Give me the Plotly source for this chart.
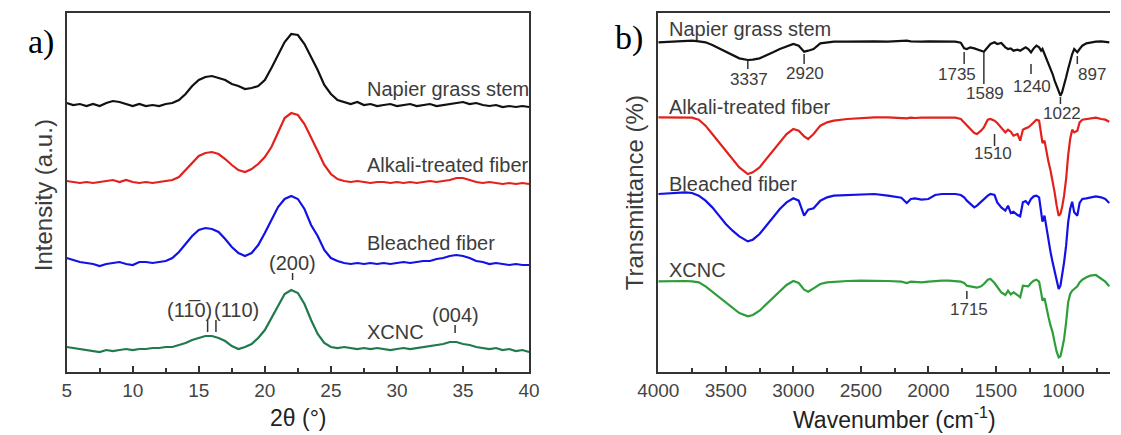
import plotly.graph_objects as go

# ---------------- Panel a: XRD ----------------
two_theta = [5.0 + 0.5 * i for i in range(71)]
xrd_napier = [269,267,268,266,268,266,269,271,270,268,
              266,268,266,267,266,268,269,272,278,286,
              292,295,296,294,292,288,286,283,284,286,
              292,304,317,330,338,337,328,315,302,287,
              278,272,270,268,270,267,268,266,267,268,
              266,267,268,266,267,268,266,267,268,269,
              270,268,269,267,266,267,265,266,265,266,265]
xrd_alkali = [191,190,189,190,189,190,191,192,190,192,
              190,189,190,189,190,191,192,195,202,210,
              216,219,220,218,213,207,202,200,203,208,
              215,225,240,254,259,257,248,235,221,207,
              198,193,191,190,191,190,189,190,190,189,
              190,189,190,189,190,191,190,191,192,194,
              194,192,190,189,190,189,188,189,188,189,188]
xrd_bleached = [114,112,110,109,108,106,108,109,110,108,
                107,110,110,109,110,111,114,120,128,136,
                142,144,143,140,133,125,119,116,119,127,
                139,152,165,173,176,173,163,147,136,122,
                114,111,109,108,109,108,109,108,109,108,
                109,110,109,110,111,111,113,114,116,117,
                116,114,111,110,108,109,108,107,108,107,107]
xrd_xcnc = [25,24,23,22,21,20,22,21,22,23,
            22,23,23,24,24,25,25,27,29,32,
            34,36,36,34,31,26,23,25,28,34,
            42,54,67,78,82,79,68,52,38,29,
            25,24,25,24,23,24,23,24,23,22,
            23,24,23,24,25,26,27,28,30,30,
            28,27,25,24,23,24,22,23,21,22,20]

xrd_names = ["Napier grass stem", "Alkali-treated fiber", "Bleached fiber", "XCNC"]
xrd_label_y = [283, 207, 129, 40]
xrd_label_x = 27.6

miller_labels = ["(200)", "(11\u03050)", "(110)", "(004)"]
miller_text_x = [22.07, 14.27, 17.87, 34.4]
miller_text_y = [109, 62, 62, 57]
miller_tick_x = [22.1, 15.67, 16.3, 34.4]
miller_tick_y0 = [92, 40, 40, 39]
miller_tick_y1 = [99, 52, 52, 47]

# ---------------- Panel b: FTIR ----------------
wavenumber = [4000, 3900, 3800, 3750, 3700, 3650, 3600, 3550, 3500, 3450,
              3400, 3337, 3300, 3250, 3200, 3150, 3100, 3050, 3000, 2960,
              2920, 2890, 2850, 2800, 2750, 2700, 2600, 2500, 2400, 2300,
              2200, 2160, 2130, 2100, 2050, 2000, 1950, 1900, 1850, 1800,
              1760, 1735, 1715, 1690, 1660, 1640, 1610, 1589, 1560, 1540,
              1510, 1490, 1460, 1430, 1410, 1390, 1370, 1340, 1320, 1300,
              1280, 1260, 1240, 1220, 1200, 1180, 1165, 1155, 1140, 1125,
              1110, 1095, 1080, 1065, 1050, 1035, 1022, 1010, 995, 980,
              965, 950, 935, 920, 897, 880, 860, 830, 800, 760,
              720, 690, 660]
ftir_napier = [99.0, 99.2, 99.3, 99.5, 99.3, 99.0, 98.2, 97.2, 96.0, 95.0,
               94.2, 93.7, 93.8, 94.2, 95.0, 96.0, 97.0, 97.8, 98.5, 98.0,
               96.2, 96.5, 97.0, 98.7, 99.0, 99.2, 99.2, 99.3, 99.3, 99.2,
               99.3, 99.5, 99.3, 99.2, 99.2, 99.3, 99.3, 99.2, 99.3, 99.2,
               98.9, 97.2, 97.0, 97.5, 97.2, 97.0, 96.5, 96.2, 97.5, 98.5,
               99.0, 98.5, 98.8, 97.5, 97.0, 97.2, 96.5, 96.8, 96.5, 97.0,
               97.5, 97.0, 96.0, 97.2, 98.0, 97.5, 96.5, 97.0, 95.5, 94.5,
               93.0, 91.5, 89.5, 87.5, 86.0, 84.5, 83.0, 84.0, 86.0, 88.5,
               91.0, 93.5, 95.5, 97.0, 96.0, 97.0, 98.0, 98.7, 99.0, 99.2,
               99.3, 99.2, 99.0]
ftir_alkali = [76.5, 76.5, 76.5, 76.4, 75.8, 74.0, 71.5, 69.0, 66.5, 64.0,
               61.5, 59.5, 60.0, 61.5, 64.0, 66.5, 69.0, 71.5, 73.0, 72.5,
               70.8, 70.0, 71.5, 74.0, 75.0, 75.5, 76.0, 76.3, 76.5, 76.5,
               76.4, 76.2, 76.4, 76.3, 76.4, 76.4, 76.5, 76.5, 76.5, 76.4,
               76.0, 75.0, 74.2, 73.0, 71.8, 71.5, 72.5, 73.5, 75.8, 76.0,
               75.5, 74.8, 73.5, 72.0, 72.8, 72.2, 71.0, 71.5, 69.5, 72.8,
               73.2, 73.5, 74.2, 75.0, 75.8, 75.5, 72.0, 68.8, 69.5, 66.0,
               63.0, 60.5, 57.5, 54.0, 50.0, 47.0, 47.5, 49.5, 53.0, 58.0,
               65.0, 70.0, 72.8, 72.0, 72.5, 75.0, 75.8, 76.0, 76.2, 76.4,
               76.0, 75.8, 75.2]
ftir_bleached = [53.5, 53.8, 54.0, 53.8, 53.0, 51.5, 49.5, 47.0, 44.5, 42.5,
                 40.8, 39.3, 39.8, 41.5, 44.0, 46.5, 49.0, 51.0, 52.2, 51.5,
                 47.0, 48.8, 49.2, 51.5, 52.5, 53.0, 53.2, 53.4, 53.5, 53.0,
                 52.4, 50.8, 52.0, 52.2, 51.8, 52.0, 53.2, 53.5, 53.5, 53.5,
                 53.2, 52.5, 51.5, 50.5, 49.5, 50.0, 51.2, 52.0, 53.0, 53.5,
                 53.2, 51.0, 49.5, 48.5, 50.0, 47.8, 48.2, 47.2, 46.8, 51.0,
                 51.4, 50.5, 52.0, 52.8, 53.0, 52.5, 48.0, 45.2, 47.0, 43.0,
                 40.0, 36.0, 33.0, 30.0, 27.0, 25.0, 26.0, 29.0, 33.0, 38.0,
                 45.0, 49.0, 51.2, 48.0, 47.0, 50.8, 52.0, 52.2, 52.4, 52.8,
                 52.5, 52.0, 50.8]
ftir_xcnc = [27.3, 27.4, 27.4, 27.3, 27.0, 25.8, 24.2, 22.5, 20.8, 19.2,
             17.8, 16.8, 17.2, 18.5, 20.5, 22.5, 24.5, 26.2, 27.4, 26.8,
             24.8, 24.2, 25.2, 26.5, 27.0, 27.2, 27.4, 27.5, 27.5, 27.4,
             27.2, 26.8, 27.2, 27.1, 27.0, 27.2, 27.4, 27.5, 27.5, 27.4,
             27.2, 26.8, 26.0, 25.8, 25.5, 25.4, 25.8, 26.5, 27.8, 28.0,
             26.8, 25.8, 24.0, 23.2, 24.5, 23.4, 24.0, 23.2, 22.5, 26.0,
             25.8, 25.8, 26.8, 27.5, 27.8, 27.2, 24.0, 21.5, 22.2, 19.0,
             16.5, 14.0, 12.0, 9.0, 6.2, 4.5, 4.8, 7.0, 10.0, 15.0,
             21.0, 23.5, 24.5, 25.0, 25.8, 27.0, 27.8, 28.5, 29.0, 29.2,
             28.0, 27.2, 25.8]

ftir_label_x = 3935
ftir_label_y = [103.0, 79.6, 56.5, 30.8]

band_labels = ["3337", "2920", "1735", "1589", "1240", "897", "1022", "1510", "1715"]
band_text_x = [3327, 2914, 1787, 1583, 1230, 791, 1011, 1525, 1698]
band_text_y = [88.0, 89.8, 89.5, 83.8, 85.9, 89.5, 77.8, 65.8, 19.0]
band_tick_x = [3337, 2920, 1735, 1589, 1240, 897, 1022, 1510, 1715]
band_tick_y0 = [91.0, 92.5, 92.5, 86.5, 89.5, 92.5, 80.5, 67.9, 22.0]
band_tick_y1 = [93.4, 95.5, 96.1, 96.1, 92.5, 94.9, 82.6, 71.5, 24.4]

colors_a = ["#111111", "#e3211c", "#1212e6", "#1f7a4d"]
colors_b = ["#111111", "#e3211c", "#1212e6", "#2e9e3a"]

TEXT = "#3c3c3c"
SANS = "Liberation Sans, Arial, sans-serif"

fig = go.Figure()

for ys, c in zip([xrd_napier, xrd_alkali, xrd_bleached, xrd_xcnc], colors_a):
    fig.add_trace(go.Scatter(x=two_theta, y=ys, mode="lines",
                             line=dict(color=c, width=2.2),
                             xaxis="x", yaxis="y", showlegend=False, hoverinfo="skip"))

tx, ty = [], []
for x, a, b in zip(miller_tick_x, miller_tick_y0, miller_tick_y1):
    tx += [x, x, None]
    ty += [a, b, None]
fig.add_trace(go.Scatter(x=tx, y=ty, mode="lines", line=dict(color="#333333", width=1.5),
                         xaxis="x", yaxis="y", showlegend=False, hoverinfo="skip"))

for ys, c in zip([ftir_napier, ftir_alkali, ftir_bleached, ftir_xcnc], colors_b):
    fig.add_trace(go.Scatter(x=wavenumber, y=ys, mode="lines",
                             line=dict(color=c, width=2.2),
                             xaxis="x2", yaxis="y2", showlegend=False, hoverinfo="skip"))

tx, ty = [], []
for x, a, b in zip(band_tick_x, band_tick_y0, band_tick_y1):
    tx += [x, x, None]
    ty += [a, b, None]
fig.add_trace(go.Scatter(x=tx, y=ty, mode="lines", line=dict(color="#333333", width=1.5),
                         xaxis="x2", yaxis="y2", showlegend=False, hoverinfo="skip"))

ann = []
for name, y in zip(xrd_names, xrd_label_y):
    ann.append(dict(x=xrd_label_x, y=y, xref="x", yref="y", text=name, showarrow=False,
                    xanchor="left", yanchor="middle", font=dict(size=20, color=TEXT, family=SANS)))
for t, x, y in zip(miller_labels, miller_text_x, miller_text_y):
    ann.append(dict(x=x, y=y, xref="x", yref="y", text=t, showarrow=False,
                    xanchor="center", yanchor="middle", font=dict(size=20, color=TEXT, family=SANS)))
for name, y in zip(xrd_names, ftir_label_y):
    ann.append(dict(x=ftir_label_x, y=y, xref="x2", yref="y2", text=name, showarrow=False,
                    xanchor="left", yanchor="middle", font=dict(size=20, color=TEXT, family=SANS)))
for t, x, y in zip(band_labels, band_text_x, band_text_y):
    ann.append(dict(x=x, y=y, xref="x2", yref="y2", text=t, showarrow=False,
                    xanchor="center", yanchor="middle", font=dict(size=17, color=TEXT, family=SANS)))

# axis titles and panel letters
ann += [
    dict(x=0.0214, y=0.552, xref="paper", yref="paper", text="Intensity (a.u.)", textangle=-90,
         showarrow=False, xanchor="center", yanchor="middle", font=dict(size=24, color=TEXT, family=SANS)),
    dict(x=0.563, y=0.556, xref="paper", yref="paper", text="Transmittance (%)", textangle=-90,
         showarrow=False, xanchor="center", yanchor="middle", font=dict(size=24, color=TEXT, family=SANS)),
    dict(x=0.2545, y=0.038, xref="paper", yref="paper", text="2\u03b8 (\u00b0)",
         showarrow=False, xanchor="center", yanchor="middle", font=dict(size=23, color="#222222", family=SANS)),
    dict(x=0.802, y=0.038, xref="paper", yref="paper", text="Wavenumber (cm<sup>-1</sup>)",
         showarrow=False, xanchor="center", yanchor="middle", font=dict(size=23, color="#222222", family=SANS)),
    dict(x=0.0187, y=0.903, xref="paper", yref="paper", text="a)",
         showarrow=False, xanchor="center", yanchor="middle", font=dict(size=34, color="#000000", family="Liberation Serif, Times New Roman, serif")),
    dict(x=0.5584, y=0.9126, xref="paper", yref="paper", text="b)",
         showarrow=False, xanchor="center", yanchor="middle", font=dict(size=34, color="#000000", family="Liberation Serif, Times New Roman, serif")),
]

ydom = [0.1448, 0.9701]
axis_common = dict(showline=True, linecolor="#333333", linewidth=2, showgrid=False, zeroline=False,
                   ticks="inside", ticklen=6, tickwidth=2, tickcolor="#333333",
                   tickfont=dict(size=19, color="#444444", family=SANS))

fig.update_layout(
    width=1121, height=435,
    margin=dict(l=0, r=0, t=0, b=0),
    paper_bgcolor="white", plot_bgcolor="white",
    xaxis=dict(domain=[47/1121, 523/1121], range=[5, 40], tickvals=[5, 10, 15, 20, 25, 30, 35, 40],
               mirror=True, anchor="y",
               minor=dict(dtick=2.5, tick0=5, ticks="inside", ticklen=4, tickwidth=2, tickcolor="#333333"),
               **axis_common),
    yaxis=dict(domain=ydom, range=[0, 359], showline=True, linecolor="#333333", linewidth=2,
               mirror=True, showticklabels=False, ticks="", showgrid=False, zeroline=False, anchor="x"),
    xaxis2=dict(domain=[656/1121, 1.0], range=[4000, 655], tickvals=[4000, 3500, 3000, 2500, 2000, 1500, 1000],
                mirror=True, anchor="y2",
                minor=dict(dtick=250, tick0=0, ticks="inside", ticklen=4, tickwidth=2, tickcolor="#333333"),
                **axis_common),
    yaxis2=dict(domain=ydom, range=[0.1, 107.8], showline=True, linecolor="#333333", linewidth=2,
                mirror=False, showticklabels=False, ticks="", showgrid=False, zeroline=False, anchor="x2"),
    annotations=ann,
)

fig.write_html("out.html")
